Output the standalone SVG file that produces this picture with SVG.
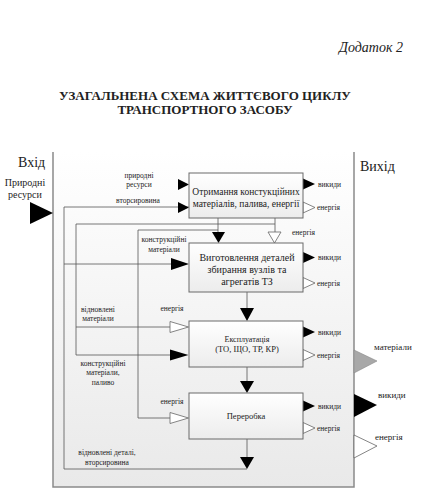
<svg xmlns="http://www.w3.org/2000/svg" width="432" height="496" viewBox="0 0 432 496">
<defs>
<linearGradient id="pg" x1="0" y1="0" x2="0" y2="1">
<stop offset="0" stop-color="#ffffff"/>
<stop offset="1" stop-color="#e9e9e9"/>
</linearGradient>
<linearGradient id="bg" x1="0" y1="0" x2="0" y2="1">
<stop offset="0" stop-color="#ffffff"/>
<stop offset="1" stop-color="#ececec"/>
</linearGradient>
</defs>
<style>
text{font-family:"Liberation Serif","Times New Roman",serif;fill:#222}
.s{font-size:7.5px}
.m{font-size:10px}
.box{fill:url(#bg);stroke:#6a6a6a;stroke-width:1}
.ln{fill:none;stroke:#555;stroke-width:0.8}
.blk{fill:#000}
.hol{fill:#fff;stroke:#666;stroke-width:0.8}
.gry{fill:#a8a8a8;stroke:#888;stroke-width:0.6}
</style>
<rect width="432" height="496" fill="#fff"/>

<g id="header">
<text x="403" y="52" text-anchor="end" font-size="14" font-style="italic">Додаток 2</text>
<text x="205" y="100" text-anchor="middle" font-size="13" font-weight="bold">УЗАГАЛЬНЕНА СХЕМА ЖИТТЄВОГО ЦИКЛУ</text>
<text x="205" y="114" text-anchor="middle" font-size="13" font-weight="bold">ТРАНСПОРТНОГО ЗАСОБУ</text>
</g>

<g id="panel">
<rect x="53" y="152" width="301" height="335" fill="url(#pg)"/>
<path d="M53,152 V487 H354 V152" fill="none" stroke="#8a8a8a" stroke-width="1.5"/>
<text x="18" y="167" font-size="14">Вхід</text>
<text x="360" y="171" font-size="14">Вихід</text>
</g>

<g id="connectors">
<path class="ln" d="M189,207 H64 V469 H247"/>
<path class="ln" d="M64,264 H171"/>
<path class="ln" d="M275,218 V232"/>
<path class="ln" d="M275,224 H76 V355 H170"/>
<path class="ln" d="M76,327 H170"/>
<path class="ln" d="M218,218 V232"/>
<path class="ln" d="M218,230 H138 V418 H170"/>
<path class="ln" d="M247,292 V308"/>
<path class="ln" d="M247,367 V381"/>
<path class="ln" d="M247,439 V457"/>

<polygon class="blk" points="30,202 53,213 30,224"/>
<polygon class="blk" points="178,179 189,184.5 178,190"/>
<polygon class="blk" points="178,202 189,207.5 178,213"/>
<polygon class="blk" points="212,232 225,232 218.5,243"/>
<polygon class="hol" points="268,232 281,232 274.5,243"/>
<polygon class="blk" points="171,258 189,264 171,270"/>
<polygon class="blk" points="240,308 254,308 247,321"/>
<polygon class="hol" points="170,321.5 188.5,327 170,332.5"/>
<polygon class="blk" points="170,349.5 188.5,355 170,360.5"/>
<polygon class="blk" points="240,381 254,381 247,393"/>
<polygon class="hol" points="170,412.5 188.5,418 170,423.5"/>
<polygon class="blk" points="240,457 254,457 247,469"/>

<polygon class="blk" points="303,178.5 315,184 303,189.5"/>
<polygon class="hol" points="303,202 315,207.5 303,213"/>
<polygon class="blk" points="303,252 315,257.5 303,263"/>
<polygon class="hol" points="303,277.5 315,283 303,288.5"/>
<polygon class="blk" points="303,326.5 315,332 303,337.5"/>
<polygon class="hol" points="303,349.5 315,355 303,360.5"/>
<polygon class="blk" points="303,400.5 315,406 303,411.5"/>
<polygon class="hol" points="303,422.5 315,428 303,433.5"/>

<polygon class="gry" points="354,350 377,361 354,373"/>
<polygon class="blk" points="354,394 377,405 354,417"/>
<polygon class="hol" points="354,435 377,446 354,458"/>

<text x="25" y="186" text-anchor="middle" font-size="10">Природні</text>
<text x="25" y="198" text-anchor="middle" font-size="10">ресурси</text>
<text class="s" x="139" y="178" text-anchor="middle">природні</text>
<text class="s" x="139" y="187" text-anchor="middle">ресурси</text>
<text class="s" x="138" y="203" text-anchor="middle">вторсировина</text>
<text class="s" x="164" y="242" text-anchor="middle">конструкційні</text>
<text class="s" x="164" y="252" text-anchor="middle">матеріали</text>
<text class="s" x="292" y="235">енергія</text>
<text class="s" x="98" y="312" text-anchor="middle">відновлені</text>
<text class="s" x="98" y="321" text-anchor="middle">матеріали</text>
<text class="s" x="172" y="311" text-anchor="middle">енергія</text>
<text class="s" x="103" y="366" text-anchor="middle">конструкційні</text>
<text class="s" x="103" y="375" text-anchor="middle">матеріали,</text>
<text class="s" x="103" y="385" text-anchor="middle">паливо</text>
<text class="s" x="172" y="404" text-anchor="middle">енергія</text>
<text class="s" x="107" y="455" text-anchor="middle">відновлені деталі,</text>
<text class="s" x="107" y="465" text-anchor="middle">вторсировина</text>

<text class="s" x="318" y="187">викиди</text>
<text class="s" x="317" y="210">енергія</text>
<text class="s" x="318" y="260">викиди</text>
<text class="s" x="317" y="286">енергія</text>
<text class="s" x="318" y="335">викиди</text>
<text class="s" x="317" y="358">енергія</text>
<text class="s" x="318" y="409">викиди</text>
<text class="s" x="317" y="431">енергія</text>

<text x="374" y="350" font-size="9">матеріали</text>
<text x="378" y="398" font-size="9">викиди</text>
<text x="375" y="440" font-size="9">енергія</text>
</g>

<g id="box1">
<rect class="box" x="189" y="173" width="114" height="45"/>
<text x="246" y="195" text-anchor="middle" font-size="9.5">Отримання констукційних</text>
<text x="246" y="207" text-anchor="middle" font-size="9.5">матеріалів, палива, енергії</text>
</g>
<g id="box2">
<rect class="box" x="189" y="243" width="114" height="49"/>
<text class="m" x="247" y="261" text-anchor="middle">Виготовлення деталей</text>
<text class="m" x="247" y="273" text-anchor="middle">збирання вузлів та</text>
<text class="m" x="247" y="285" text-anchor="middle">агрегатів ТЗ</text>
</g>
<g id="box3">
<rect class="box" x="189" y="321" width="114" height="46"/>
<text x="247" y="342" text-anchor="middle" font-size="8">Експлуатація</text>
<text x="247" y="352" text-anchor="middle" font-size="8.5">(ТО, ЩО, ТР, КР)</text>
</g>
<g id="box4">
<rect class="box" x="189" y="393" width="114" height="46"/>
<text x="246" y="419" text-anchor="middle" font-size="8.5">Переробка</text>
</g>
</svg>
